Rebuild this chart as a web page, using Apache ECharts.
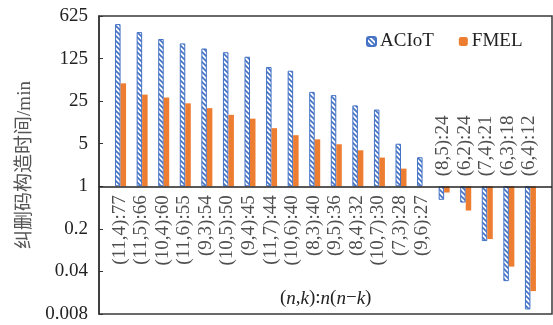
<!DOCTYPE html>
<html>
<head>
<meta charset="utf-8">
<script src="https://cdn.jsdelivr.net/npm/echarts@6/dist/echarts.min.js"></script>
<style>
  html, body { margin: 0; padding: 0; background: #fff; }
  #chart { width: 553px; height: 325px; }
</style>
</head>
<body>
<div id="chart"></div>
<script>
// (n,k):n(n-k) parameter sets
const categories = [
  '(11,4):77', '(11,5):66', '(10,4):60', '(11,6):55', '(9,3):54',
  '(10,5):50', '(9,4):45', '(11,7):44', '(10,6):40', '(8,3):40',
  '(9,5):36', '(8,4):32', '(10,7):30', '(7,3):28', '(9,6):27',
  '(8,5):24', '(6,2):24', '(7,4):21', '(6,3):18', '(6,4):12'
];
// erasure-code construction time, minutes
const aciotValues = [460, 340, 262, 222, 183, 159, 134, 91, 79, 35.5, 31.4, 21.3, 18.2, 5.0, 3.0, 0.60, 0.54, 0.126, 0.0277, 0.0095];
const fmelValues = [49, 32, 28.7, 23, 19.2, 14.9, 12.9, 9.0, 6.9, 5.9, 4.9, 3.9, 2.96, 1.95, 1, 0.79, 0.40, 0.136, 0.048, 0.019];
const yTickLabels = ['0.008', '0.04', '0.2', '1', '5', '25', '125', '625'];

const SERIF = "'Liberation Serif', 'Times New Roman', serif";
const BLUE = '#4472C4';
const ORANGE = '#ED7D31';

// diagonal hatch fill for the ACIoT bars
function hatch() {
  const s = 5;
  const c = document.createElement('canvas');
  c.width = s; c.height = s;
  const g = c.getContext('2d');
  g.fillStyle = '#fff';
  g.fillRect(0, 0, s, s);
  g.strokeStyle = BLUE;
  g.lineWidth = 1.6;
  g.beginPath();
  g.moveTo(-1, -1); g.lineTo(s + 1, s + 1);
  g.moveTo(-1, s - 1); g.lineTo(1, s + 1);
  g.moveTo(s - 1, -1); g.lineTo(s + 1, 1);
  g.stroke();
  return c;
}

const chart = echarts.init(document.getElementById('chart'), null, { renderer: 'canvas' });

const labelData = categories.map((name, i) => {
  const below = aciotValues[i] >= 1;
  return {
    value: [i, 1],
    label: below
      ? { align: 'right', offset: [-9, -1] }
      : { align: 'left', offset: [10, -1] }
  };
});

chart.setOption({
  animation: false,
  textStyle: { fontFamily: SERIF },
  grid: {
    left: 99, right: 1, top: 16, bottom: 11,
    show: true, borderColor: '#3a3a3a', borderWidth: 1.5,
    containLabel: false
  },
  legend: {
    data: ['ACIoT', 'FMEL'],
    left: 361, top: 27,
    itemWidth: 9, itemHeight: 9, itemGap: 25,
    textStyle: { fontFamily: SERIF, fontSize: 19, color: '#222', padding: [0, 0, 0, -1] }
  },
  title: {
    text: '({i|n},{i|k}):{i|n}({i|n}−{i|k})',
    left: 275, top: 284,
    textStyle: {
      fontFamily: SERIF, fontSize: 19, fontWeight: 'normal', color: '#222',
      rich: { i: { fontFamily: SERIF, fontSize: 19, fontStyle: 'italic', color: '#222' } }
    }
  },
  xAxis: {
    type: 'category',
    data: categories,
    boundaryGap: false,
    min: -1, max: categories.length,
    axisLine: { show: false },
    axisTick: { show: false },
    axisLabel: { show: false },
    splitLine: { show: false }
  },
  yAxis: {
    type: 'log',
    logBase: 5,
    min: 0.008, max: 625,
    name: '纠删码构造时间/min',
    nameLocation: 'middle',
    nameGap: 62,
    nameTextStyle: { fontFamily: "'Liberation Serif', 'Noto Sans CJK SC', serif", fontSize: 19, color: '#555' },
    axisLine: { show: true, lineStyle: { color: '#333', width: 1.5 } },
    axisTick: { show: true, inside: true, length: 4, lineStyle: { color: '#333' } },
    axisLabel: {
      margin: 11, fontFamily: SERIF, fontSize: 19, color: '#222',
      formatter: v => {
        const hit = yTickLabels.find(t => Math.abs(Math.log(parseFloat(t) / v)) < 1e-6);
        return hit || '';
      }
    },
    splitLine: { show: false }
  },
  series: [
    {
      name: 'ACIoT',
      type: 'bar',
      data: aciotValues,
      barWidth: 5.5,
      barGap: '0%',
      itemStyle: { color: { image: hatch(), repeat: 'repeat' }, borderColor: BLUE, borderWidth: 1 },
      markLine: {
        silent: true,
        symbol: ['none', 'none'],
        label: { show: false },
        lineStyle: { color: '#222', width: 1.5, type: 'solid' },
        data: [{ yAxis: 1 }]
      },
      z: 2
    },
    {
      name: 'FMEL',
      type: 'bar',
      data: fmelValues,
      barWidth: 5.5,
      barGap: '0%',
      itemStyle: { color: ORANGE },
      z: 2
    },
    {
      name: 'labels',
      type: 'scatter',
      data: labelData,
      symbolSize: 0,
      silent: true,
      z: 5,
      label: {
        show: true,
        position: 'inside',
        rotate: 90,
        verticalAlign: 'middle',
        fontFamily: SERIF,
        fontSize: 19,
        color: '#222',
        formatter: p => categories[p.dataIndex]
      }
    }
  ]
});
</script>
</body>
</html>
